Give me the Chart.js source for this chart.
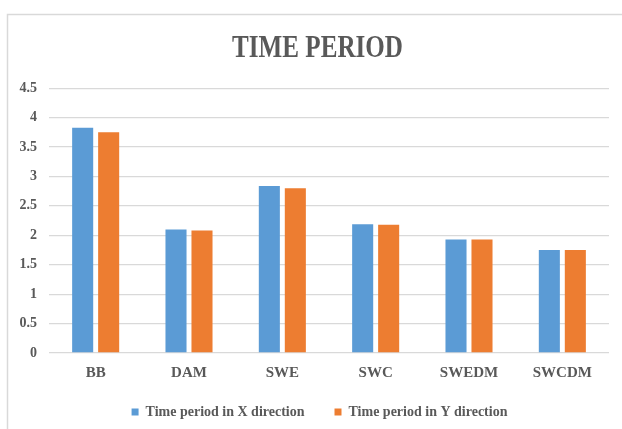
<!DOCTYPE html>
<html>
<head>
<meta charset="utf-8">
<script src="https://cdn.jsdelivr.net/npm/chart.js@4"></script>
<style>
  html, body { margin: 0; padding: 0; background: #ffffff; }
  #wrap { width: 622px; height: 429px; position: relative; }
</style>
</head>
<body>
<div id="wrap"><canvas id="c" width="622" height="429"></canvas></div>
<script>
const categories = ["BB", "DAM", "SWE", "SWC", "SWEDM", "SWCDM"];
const seriesX = [3.83, 2.10, 2.84, 2.19, 1.93, 1.75];
const seriesY = [3.75, 2.08, 2.80, 2.18, 1.93, 1.75];
const seriesNames = ["Time period in X direction", "Time period in Y direction"];
const yTicks = [0, 0.5, 1, 1.5, 2, 2.5, 3, 3.5, 4, 4.5];
const titleText = "TIME PERIOD";

const serif = "'Liberation Serif', 'Times New Roman', serif";
const textColor = "#595959";

const frame = {
  id: 'frame',
  beforeDraw(chart) {
    const ctx = chart.ctx;
    ctx.save();
    ctx.fillStyle = '#ffffff';
    ctx.fillRect(0, 0, chart.width, chart.height);
    ctx.strokeStyle = '#d9d9d9';
    ctx.lineWidth = 1.5;
    ctx.strokeRect(7.5, 14.5, 700, 500);
    ctx.restore();
  }
};

const shiftBlocks = {
  id: 'shiftBlocks',
  afterLayout(chart) {
    const t = chart.titleBlock;
    if (t) {
      t.left = 13; t.right = 622;
      if (!t._condensed) {
        t._condensed = true;
        const orig = t.draw;
        t.draw = function () {
          const ctx = this.ctx;
          const cx = (this.left + this.right) / 2;
          ctx.save();
          ctx.translate(cx, 0);
          ctx.scale(0.81, 1);
          ctx.translate(-cx, 0);
          orig.apply(this, arguments);
          ctx.restore();
        };
      }
    }
    const l = chart.legend;
    if (l) {
      l.left = 17; l.right = 622;
      l.top = 375; l.bottom = 429;
    }
  }
};

new Chart(document.getElementById('c'), {
  type: 'bar',
  data: {
    labels: categories,
    datasets: [
      { label: seriesNames[0], data: seriesX, backgroundColor: '#5B9BD5',
        barPercentage: 0.81, categoryPercentage: 0.557 },
      { label: seriesNames[1], data: seriesY, backgroundColor: '#ED7D31',
        barPercentage: 0.81, categoryPercentage: 0.557 }
    ]
  },
  options: {
    responsive: false,
    animation: false,
    devicePixelRatio: 1,
    layout: { padding: { left: 0, right: 13, top: 0, bottom: 0 } },
    plugins: {
      title: {
        display: true,
        text: titleText,
        color: textColor,
        font: { family: serif, size: 31, weight: 'bold' },
        padding: { top: 30, bottom: 21 }
      },
      legend: {
        display: true,
        position: 'bottom',
        labels: {
          color: textColor,
          font: { family: serif, size: 14, weight: 'bold' },
          boxWidth: 7,
          boxHeight: 7,
          padding: 30
        }
      },
      tooltip: { enabled: false }
    },
    scales: {
      x: {
        grid: { display: false, drawTicks: false },
        border: { display: false },
        ticks: {
          color: textColor,
          font: { family: serif, size: 15, weight: 'bold' },
          padding: 11,
          maxRotation: 0
        },
        afterFit(scale) { scale.height = 33; }
      },
      y: {
        min: 0,
        max: 4.5,
        afterBuildTicks(scale) { scale.ticks = yTicks.map(v => ({ value: v })); },
        grid: { color: '#d9d9d9', lineWidth: 1.3, drawTicks: false },
        border: { display: false },
        ticks: {
          color: textColor,
          font: { family: serif, size: 14, weight: 'bold' },
          padding: 12,
          callback: (v) => String(v)
        },
        afterFit(scale) { scale.width = 49; }
      }
    }
  },
  plugins: [frame, shiftBlocks,
    { id: 'legendH', beforeInit(chart) {
        const lg = chart.legend; const orig = lg.fit;
        lg.fit = function () { orig.call(this); this.height = 43; };
    } }]
});
</script>
</body>
</html>
